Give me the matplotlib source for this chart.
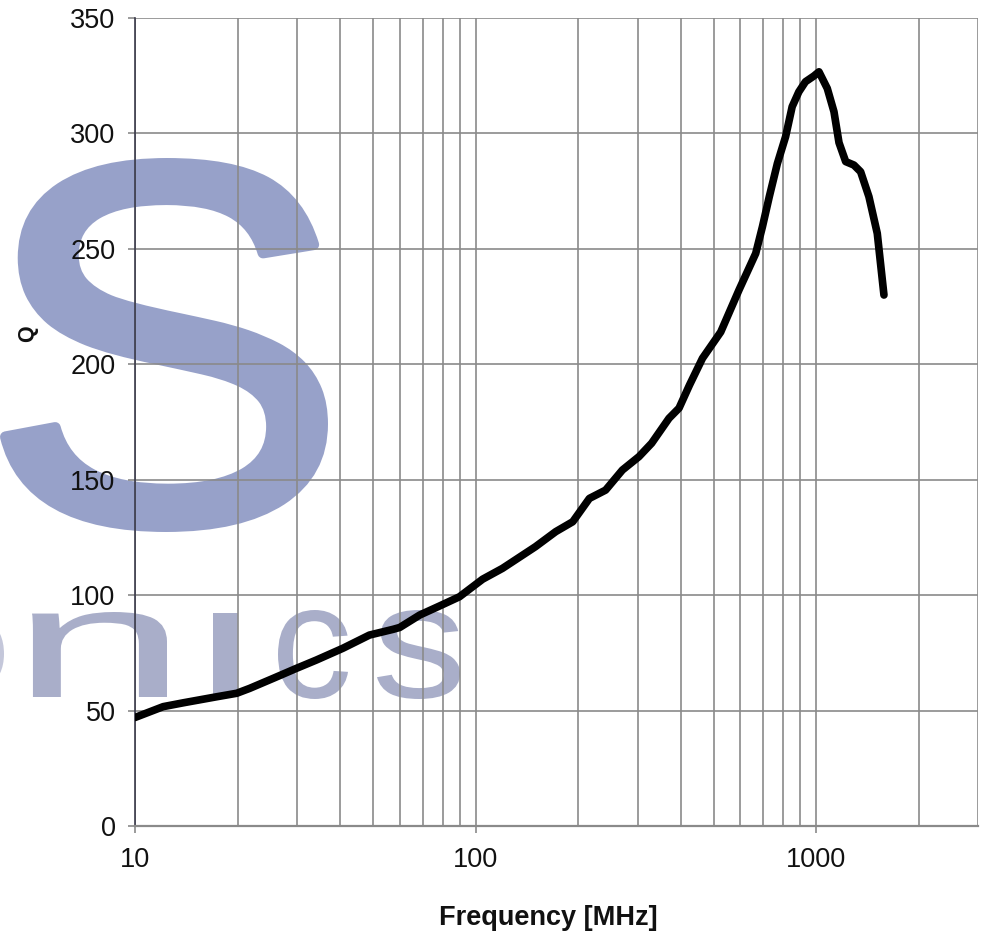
import matplotlib
matplotlib.use("Agg")
import matplotlib.pyplot as plt
import numpy as np
from matplotlib.ticker import FixedLocator, FixedFormatter, LogLocator, NullFormatter
from matplotlib.textpath import TextPath
from matplotlib.font_manager import FontProperties
from matplotlib.patches import PathPatch
from matplotlib.transforms import Affine2D

# ---- data ----
freq_mhz = [10, 12.1, 13.9, 17.4, 19.9, 21.7, 25.5, 29.8, 34.1, 40.8, 48.8, 57.3, 59.9,
            68.6, 78.4, 89.7, 104.9, 120, 150, 172, 193, 216, 241, 270, 302, 329, 370,
            396, 425, 464, 525, 594, 665, 696, 729, 770, 814, 851, 890, 931, 986, 1020,
            1079, 1129, 1168, 1222, 1292, 1352, 1430, 1513, 1583]
q_values = [47, 51.7, 53.4, 56, 57.5, 59.6, 64, 68.3, 71.9, 77, 82.7, 85.2, 86,
            91.4, 95.3, 99.3, 106.9, 111.6, 121, 127.5, 131.8, 141.9, 145.5, 154.2, 160, 165.8, 176.6,
            181, 191, 202.6, 214, 232.2, 248, 259.6, 272.6, 287, 298.6, 311.6, 318, 322.4, 324.9, 326.7,
            319.5, 309.4, 296, 287.8, 286.3, 283.4, 272.6, 256.7, 230]
x_ticks = [10, 100, 1000]
x_tick_labels = ["10", "100", "1000"]
y_ticks = [0, 50, 100, 150, 200, 250, 300, 350]
x_label = "Frequency [MHz]"
y_label = "Q"

W, H = 987, 939
plt.rcParams['font.family'] = ['Liberation Sans', 'DejaVu Sans']
fig = plt.figure(figsize=(W / 100, H / 100), dpi=100)
fig.patch.set_facecolor('white')

# ---- watermark (behind the axes) ----
def glyph(ch, x0, x1, ytop, ybot, color, weight='normal', grow=0.0):
    tp = TextPath((0, 0), ch, size=100,
                  prop=FontProperties(family='Liberation Sans', weight=weight))
    ext = tp.get_extents()
    g = grow / 2.0
    x0, x1, ytop, ybot = x0 + g, x1 - g, ytop + g, ybot - g
    t = (Affine2D().translate(-ext.x0, -ext.y0)
         .scale((x1 - x0) / ext.width / W, (ybot - ytop) / ext.height / H)
         .translate(x0 / W, (H - ybot) / H) + fig.transFigure)
    p = PathPatch(tp, transform=t, facecolor=color,
                  edgecolor=color if grow > 0 else 'none',
                  linewidth=grow * 72 / 100, joinstyle='round', zorder=-5)
    fig.add_artist(p)

glyph("S", 0, 328, 158, 532, '#97A1C9', 'normal', grow=11)
nc = '#A9AEC9'
glyph("o", -125, 4, 609, 699, '#C4C7DA')
glyph("n", 32, 167, 612, 697, nc)
glyph("\u0131", 213, 238, 613, 697, nc)
glyph("c", 278, 348, 610, 699, nc)
glyph("s", 377, 460, 610, 699, nc)

# ---- axes ----
ax = fig.add_axes([135 / W, 1 - 826 / H, (978.5 - 135) / W, (826 - 18) / H])
ax.set_facecolor('none')
ax.plot(freq_mhz, q_values, color='black', lw=5.5, solid_capstyle='round',
        solid_joinstyle='round', zorder=3)

ax.set_xscale('log')
ax.set_xlim(10, 3000)
ax.set_ylim(0, 350)
ax.xaxis.set_major_locator(FixedLocator(x_ticks))
ax.xaxis.set_major_formatter(FixedFormatter(x_tick_labels))
ax.xaxis.set_minor_locator(LogLocator(base=10, subs=np.arange(2, 10)))
ax.xaxis.set_minor_formatter(NullFormatter())
ax.set_yticks(y_ticks)

gc = '#8a8a8a'
ax.grid(True, which='major', axis='both', color=gc, lw=1.2, zorder=1)
ax.grid(True, which='minor', axis='x', color=gc, lw=1.2, zorder=1)
ax.set_axisbelow(True)

for s in ['top', 'right']:
    ax.spines[s].set_visible(False)
ax.spines['left'].set_color('#3a3a4a')
ax.spines['left'].set_linewidth(1.2)
ax.spines['bottom'].set_color(gc)
ax.spines['bottom'].set_linewidth(1.6)

ax.tick_params(axis='both', which='major', length=5, width=1.2, color=gc,
               labelsize=19.5, labelcolor='#111111')
ax.tick_params(axis='x', which='major', pad=10)
ax.tick_params(axis='y', which='major', pad=9)
ax.tick_params(axis='x', which='minor', length=0)

fig.text(548 / W, 1 - 918 / H, x_label, ha='center', va='center',
         fontsize=19.5, fontweight='bold', color='#111111')
fig.text(28 / W, 1 - 334 / H, y_label, ha='center', va='center', rotation=90,
         fontsize=15.5, fontweight='bold', color='#111111')

fig.savefig('out.png', dpi=100, facecolor='white')
